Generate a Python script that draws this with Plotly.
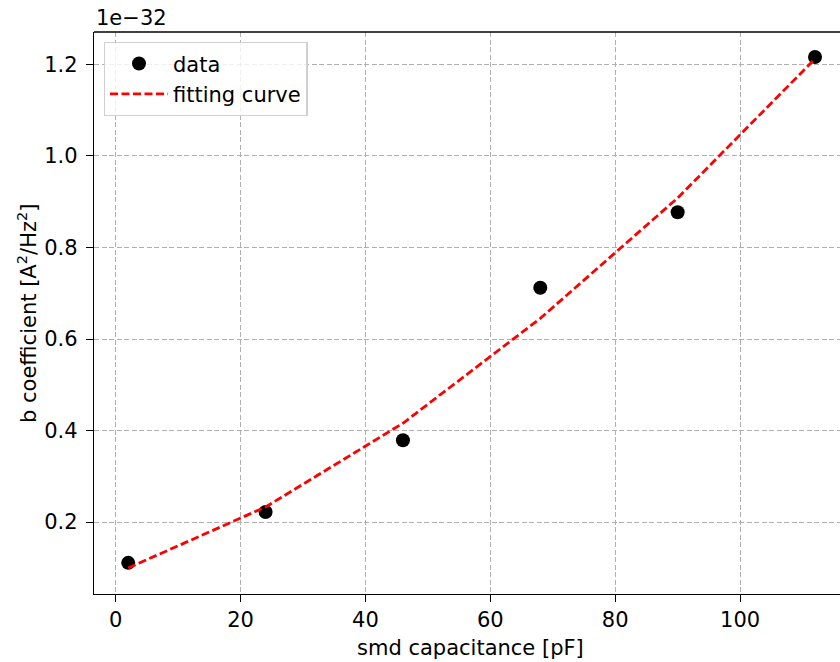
import plotly.graph_objects as go

# Measured b coefficients versus SMD capacitance, and the fitted model at the same points
capacitance_pf = [2, 24, 46, 68, 90, 112]
b_coefficient = [1.11e-33, 2.22e-33, 3.79e-33, 7.12e-33, 8.77e-33, 1.216e-32]
b_fit = [1.00e-33, 2.33e-33, 4.16e-33, 6.45e-33, 9.08e-33, 1.212e-32]

y_scale = 1e-32
y_ticks = [0.2, 0.4, 0.6, 0.8, 1.0, 1.2]
x_ticks = [0, 20, 40, 60, 80, 100]

FONT = "DejaVu Sans"
FS = 21

fig = go.Figure()
fig.add_trace(go.Scatter(
    x=capacitance_pf, y=[v / y_scale for v in b_coefficient],
    mode="markers", name="data",
    marker=dict(color="black", size=14, line=dict(width=0)),
))
fig.add_trace(go.Scatter(
    x=capacitance_pf, y=[v / y_scale for v in b_fit],
    mode="lines", name="fitting curve",
    line=dict(color="red", width=2.8, dash="8px,3.5px"),
))

axis_common = dict(
    showline=True, linecolor="black", linewidth=1.3,
    ticks="outside", ticklen=7, tickwidth=1.3, tickcolor="black",
    showgrid=True, gridcolor="#b0b0b0", gridwidth=1.2, griddash="5px,2.5px",
    zeroline=False, tickfont=dict(family=FONT, size=FS, color="black"),
)

fig.update_xaxes(
    range=[-3.48, 116.0], tickvals=x_ticks, ticktext=[str(t) for t in x_ticks],
    mirror=False, ticklabelstandoff=0, **axis_common,
)
fig.update_yaxes(
    range=[0.043, 1.2706], tickvals=y_ticks, ticktext=[f"{t:.1f}" for t in y_ticks],
    ticklabelstandoff=4, **axis_common,
)

fig.update_layout(
    width=840, height=662,
    margin=dict(l=94, r=0, t=32, b=68),
    plot_bgcolor="white", paper_bgcolor="white",
    font=dict(family=FONT, size=FS, color="black"),
    showlegend=True,
    legend=dict(
        x=0.013, y=0.982, xanchor="left", yanchor="top",
        bgcolor="rgba(255,255,255,0.8)", bordercolor="#d0d0d0", borderwidth=1.3,
        font=dict(family=FONT, size=FS, color="black"),
        itemwidth=58, tracegroupgap=0,
    ),
    shapes=[
        # top frame line of the axes box
        dict(type="line", xref="paper", yref="paper", x0=0, x1=1, y0=1, y1=1,
             line=dict(color="black", width=1.3)),
    ],
    annotations=[
        dict(text="1e\u221232", xref="paper", yref="paper", x=0, y=1,
             xanchor="left", yanchor="bottom", showarrow=False, yshift=0,
             font=dict(family=FONT, size=FS, color="black")),
        dict(text="smd capacitance [pF]", xref="paper", yref="paper",
             x=0.505, y=0, xanchor="center", yanchor="top", yshift=-40,
             showarrow=False, font=dict(family=FONT, size=FS, color="black")),
        dict(text="b coefficient [A<sup>2</sup>/Hz<sup>2</sup>]", xref="paper", yref="paper",
             x=0, y=0.5, xanchor="center", yanchor="middle", xshift=-67,
             textangle=-90, showarrow=False,
             font=dict(family=FONT, size=FS, color="black")),
    ],
)

fig.write_html("out.html")
